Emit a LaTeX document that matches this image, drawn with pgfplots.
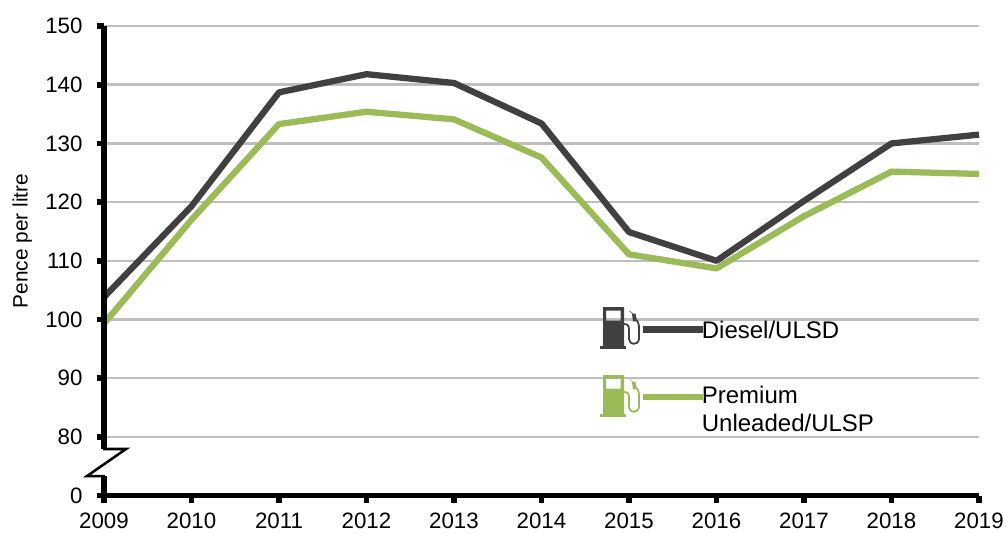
\documentclass[border=0pt]{standalone}
\usepackage{fontspec}
\setmainfont{Liberation Sans}
\usepackage{pgfplots}
\pgfplotsset{compat=1.18}
\definecolor{diesel}{HTML}{404040}
\definecolor{premium}{HTML}{9BBB59}
\definecolor{gridc}{HTML}{BFBFBF}

% fuel pump icon, coordinates in px of the reference, y downwards from the top left
\newcommand{\pump}[3]{%
  \begin{scope}[shift={(#1,#2)},x=0.75pt,y=-0.75pt]
    \fill[#3,even odd rule] (3,0) rectangle (24,39) (6,3.5) rectangle (20.7,13.5);
    \fill[#3] (0,39) rectangle (26,41.5);
    \draw[#3,line width=1.35pt,line join=round] (24,17) .. controls (28,17) and (29,19) .. (29,23)
       -- (29,32) .. controls (29,38) and (38,39) .. (39,32)
       -- (39,19) .. controls (39,16) and (37.5,15) .. (36.5,13);
    \fill[#3] (32,7) -- (35.5,6.5) -- (37,14) -- (33,14.5) -- cycle;
    \draw[#3,line width=0.4pt] (33,7) -- (29.5,4);
  \end{scope}}

\begin{document}
\begin{tikzpicture}
\path[use as bounding box] (-78pt,-28.1pt) rectangle (676.5pt,371.65pt);
\begin{axis}[
  at={(0pt,0pt)},anchor=south west,
  scale only axis,
  width=656.25pt,height=352.1pt,
  xmin=2009,xmax=2019,
  ymin=70,ymax=150,
  xtick={2009,...,2019},
  xticklabel style={/pgf/number format/1000 sep={},/pgf/number format/assume math mode=true,font=\fontsize{16.7}{20}\selectfont,yshift=-4pt},
  ytick={70,80,90,100,110,120,130,140,150},
  yticklabels={0,80,90,100,110,120,130,140,150},
  yticklabel style={font=\fontsize{16.7}{20}\selectfont,xshift=-7pt},
  ymajorgrids,
  grid style={gridc,line width=1.9pt},
  axis line style={draw=none},
  tick align=outside,
  tick pos=left,
  major tick length=5.6pt,
  tick style={black,line width=4.2pt},
  ylabel={Pence per litre},
  ylabel style={at={(axis description cs:-0.0935,0.542)},anchor=center,font=\fontsize{15.6}{18}\selectfont},
  clip=false,
]
\addplot[diesel,line width=4.7pt,line join=round] coordinates {
  (2009,103.8) (2010,119.3) (2011,138.7) (2012,141.8) (2013,140.3) (2014,133.4)
  (2015,114.9) (2016,110.0) (2017,120.2) (2018,130.0) (2019,131.5)};
\addplot[premium,line width=4.7pt,line join=round] coordinates {
  (2009,99.3) (2010,117.0) (2011,133.3) (2012,135.4) (2013,134.1) (2014,127.6)
  (2015,111.1) (2016,108.7) (2017,117.6) (2018,125.2) (2019,124.8)};
% legend samples
\addplot[diesel,line width=4.7pt] coordinates {(2015.16,98.3) (2015.84,98.3)};
\addplot[premium,line width=4.7pt] coordinates {(2015.16,86.8) (2015.84,86.8)};
\node[anchor=west,font=\fontsize{18}{21}\selectfont,inner sep=0pt] at (axis cs:2015.83,98.3) {Diesel/ULSD};
\node[anchor=north west,align=left,font=\fontsize{18}{21}\selectfont,inner sep=0pt] at (axis cs:2015.83,88.7) {Premium\\Unleaded/ULSP};
% broken y axis
\draw[black,line width=4.2pt] (0pt,352.1pt) -- (0pt,34.9pt);
\draw[black,line width=1.9pt] (-0.75pt,34.9pt) -- (16.5pt,34.9pt) -- (-12.75pt,14.6pt) -- (0.75pt,14.6pt);
\draw[black,line width=4.2pt] (0pt,14.6pt) -- (0pt,0pt);
\draw[black,line width=4.2pt] (-2.1pt,0pt) -- (656.25pt,0pt);
% icons
\pump{372pt}{141.4pt}{diesel}
\pump{372pt}{90.4pt}{premium}
\end{axis}
\end{tikzpicture}
\end{document}
